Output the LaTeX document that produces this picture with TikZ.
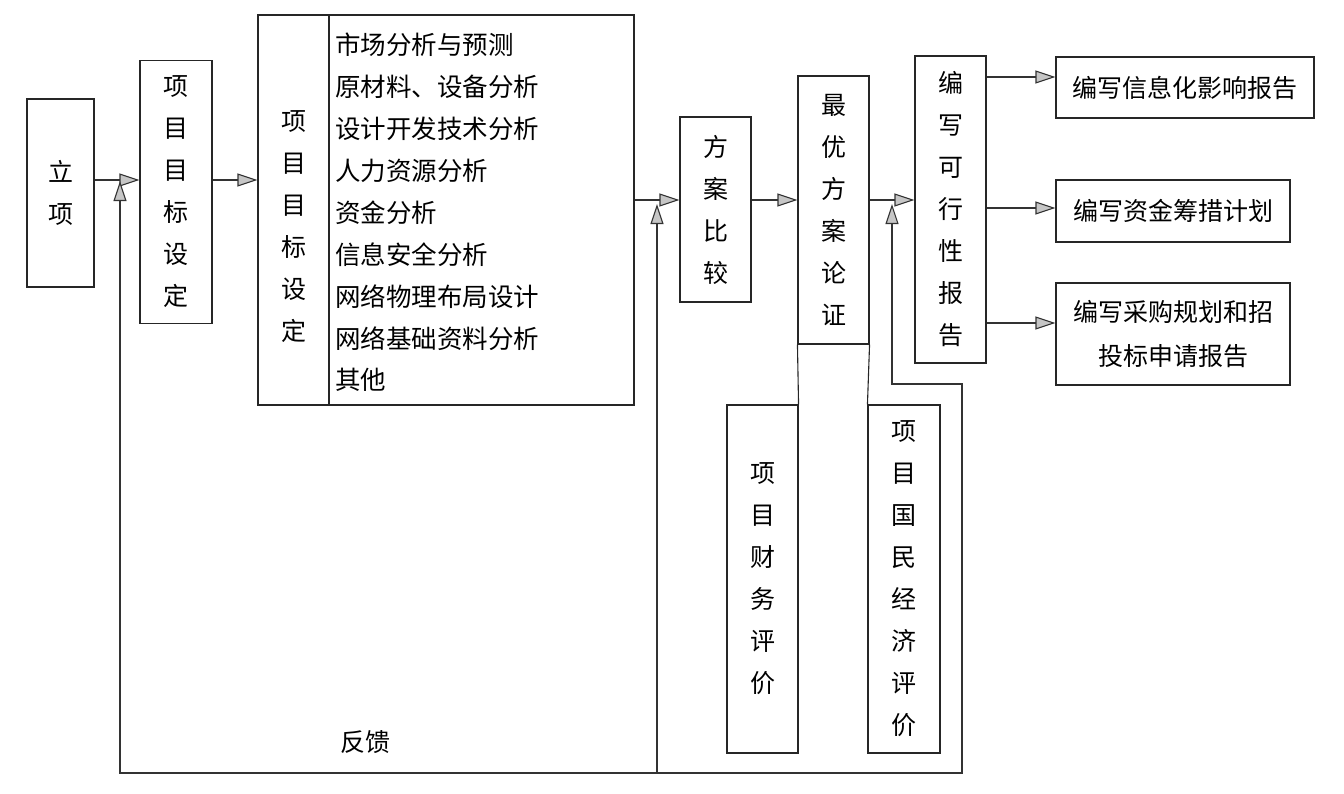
\documentclass[tikz,border=0pt]{standalone}
\usepackage{fontspec}
\setmainfont{Noto Sans CJK SC}
\usetikzlibrary{arrows.meta}
\begin{document}
\begin{tikzpicture}[x=1pt,y=-1pt,
  box/.style={draw=black!85,line width=1.1pt,inner sep=0pt,align=center,
    font=\fontsize{25}{42}\selectfont},
  txt/.style={inner sep=0pt,font=\fontsize{25}{42}\selectfont},
  conn/.style={draw=black!80,line width=1.1pt},
  tip/.tip={Triangle[length=20pt,width=13pt,fill=gray!45]},
  arr/.style={conn,-tip},
  barr/.style={conn,tip-tip}]
\useasboundingbox (0,0) rectangle (1344,793);
% boxes
\node[box,minimum width=67pt,minimum height=188pt] (lx) at (60.5,193) {立\\项};
\node[box,minimum width=72pt,minimum height=263pt] (g1) at (176,192) {项\\目\\目\\标\\设\\定};
\node[box,minimum width=71pt,minimum height=390pt] (b3L) at (293.5,210) {};
\node[txt,align=center] (b3Lt) at (293.5,227) {项\\目\\目\\标\\设\\定};
\node[box,minimum width=305pt,minimum height=390pt] (b3R) at (481.5,210) {};
\node[txt,align=left,anchor=west,font=\fontsize{25.5}{41.9}\selectfont] (list) at (335,212.5)
  {市场分析与预测\\原材料、设备分析\\设计开发技术分析\\人力资源分析\\资金分析\\信息安全分析\\网络物理布局设计\\网络基础资料分析\\其他};
\node[box,minimum width=71pt,minimum height=185pt] (fa) at (715.5,209.5) {方\\案\\比\\较};
\node[box,minimum width=71pt,minimum height=268pt] (opt) at (833.5,210) {最\\优\\方\\案\\论\\证};
\node[box,minimum width=71pt,minimum height=348pt] (fin) at (762.5,579) {项\\目\\财\\务\\评\\价};
\node[box,minimum width=72pt,minimum height=348pt] (nat) at (904,579) {项\\目\\国\\民\\经\\济\\评\\价};
\node[box,minimum width=71pt,minimum height=307pt] (rep) at (950.5,209.5) {编\\写\\可\\行\\性\\报\\告};
\node[box,minimum width=258pt,minimum height=61pt] (r1) at (1185,87.5) {编写信息化影响报告};
\node[box,minimum width=234pt,minimum height=62pt] (r2) at (1173,211) {编写资金筹措计划};
\node[box,minimum width=234pt,minimum height=102pt,font=\fontsize{25}{44}\selectfont] (r3) at (1173,334) {编写采购规划和招\\投标申请报告};
\node[txt] (fk) at (365,742) {反馈};
% extension lines of the optimal box
\draw[conn,draw=black!85] (opt.south west) -- (fin.north east);
\draw[conn,draw=black!85] (opt.south east) -- (nat.north west);
% coordinates
\coordinate (ya) at (0,180);
\coordinate (yb) at (0,200);
\coordinate (y1) at (0,77);
\coordinate (y2) at (0,208);
\coordinate (y3) at (0,323);
\coordinate (t1) at (120,181);
\coordinate (t2) at (657,204);
\coordinate (t3) at (892,204);
\coordinate (c1) at (892,384);
\coordinate (c2) at (962,384);
\coordinate (fbR) at (962,773);
\coordinate (fbM) at (657,773);
\coordinate (fbL) at (120,773);
% main flow
\draw[arr] (lx.east |- ya) -- (g1.west |- ya);
\draw[arr] (g1.east |- ya) -- (b3L.west |- ya);
\draw[arr] (b3R.east |- yb) -- (fa.west |- yb);
\draw[arr] (fa.east |- yb) -- (opt.west |- yb);
\draw[arr] (opt.east |- yb) -- (rep.west |- yb);
\draw[arr] (rep.east |- y1) -- (r1.west |- y1);
\draw[arr] (rep.east |- y2) -- (r2.west |- y2);
\draw[arr] (rep.east |- y3) -- (r3.west |- y3);
% feedback
\draw[barr] (t3) -- (c1) -- (c2) -- (fbR) -- (fbL) -- (t1);
\draw[arr] (fbM) -- (t2);
\end{tikzpicture}
\end{document}
